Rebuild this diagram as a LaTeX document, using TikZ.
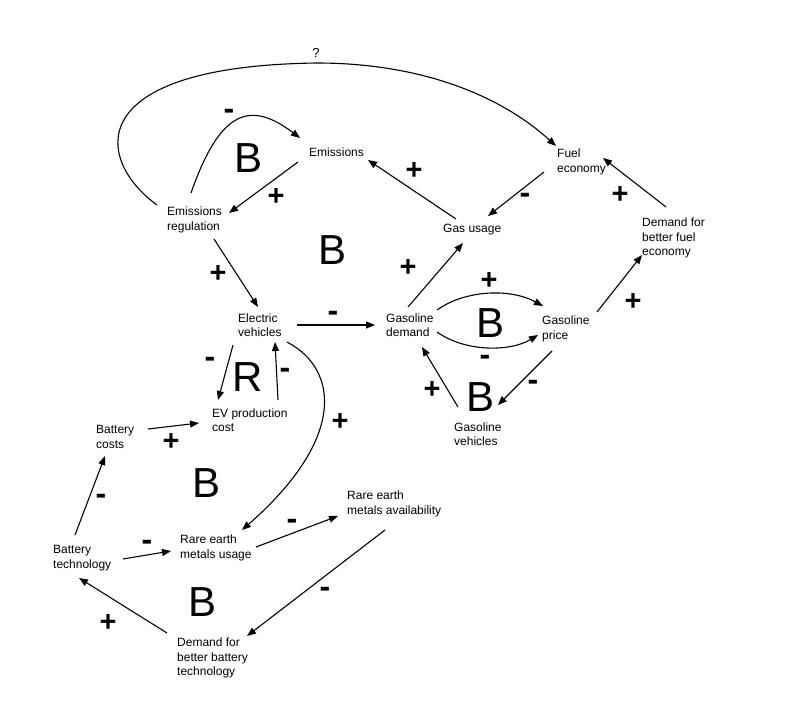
\documentclass[tikz,border=0pt]{standalone}
\usepackage{fontspec}
\setmainfont{Liberation Sans}
\usetikzlibrary{arrows.meta}
\begin{document}
\begin{tikzpicture}[x=1pt,y=-1pt,
  var/.style={anchor=west,align=left,inner sep=0pt,font=\fontsize{12}{14.5}\selectfont},
  lnk/.style={line width=1.1pt,-{Triangle[length=9pt,width=7pt]}},
  plus/.style={inner sep=0pt,font=\bfseries\fontsize{29}{29}\selectfont},
  minus/.style={inner sep=0pt,font=\bfseries\fontsize{32}{32}\selectfont},
  loopl/.style={inner sep=0pt,font=\fontsize{42}{42}\selectfont}]
\useasboundingbox[fill=white] (0,0) rectangle (789,717);
% variables
\node[var] (emis) at (309,152) {Emissions};
\node[var] (reg)  at (167,220) {Emissions\\regulation};
\node[var] (gas)  at (443,230) {Gas usage};
\node[var] (fuel) at (557,162) {Fuel\\economy};
\node[var] (dfe)  at (642,238) {Demand for\\better fuel\\economy};
\node[var] (ev)   at (238,325) {Electric\\vehicles};
\node[var] (gd)   at (386,325) {Gasoline\\demand};
\node[var] (gp)   at (542,329) {Gasoline\\price};
\node[var] (gv)   at (454,434) {Gasoline\\vehicles};
\node[var] (evc)  at (212,420) {EV production\\cost};
\node[var] (bc)   at (96,437)  {Battery\\costs};
\node[var] (rea)  at (347,504) {Rare earth\\metals availability};
\node[var] (reu)  at (180,548) {Rare earth\\metals usage};
\node[var] (bt)   at (53,558)  {Battery\\technology};
\node[var] (dbb)  at (177,658) {Demand for\\better battery\\technology};
% connectors
\draw[lnk] ([shift={(-10,-15)}]reg.west) .. controls (95,160) and (80,66) .. (317,63)
  .. controls (420,63) and (500,95) .. ([shift={(-1,-16)}]fuel.west);
\draw[lnk] ([shift={(24,-27)}]reg.west) .. controls (220,110) and (250,100) .. ([shift={(-9,-14)}]emis.west);
\draw[lnk] ([shift={(-11,10)}]emis.west) -- ([shift={(62,-7)}]reg.west);
\draw[lnk] ([shift={(47,19)}]reg.west) -- ([shift={(20,-18)}]ev.west);
\draw[lnk] ([shift={(59,0)}]ev.west) -- ([shift={(-11,0)}]gd.west);
\draw[lnk] ([shift={(13,-11)}]gas.west) -- ([shift={(59,8)}]emis.west);
\draw[lnk] ([shift={(22,-18)}]gd.west) -- ([shift={(20,13)}]gas.west);
\draw[lnk] ([shift={(-13,10)}]fuel.west) -- ([shift={(45,-14)}]gas.west);
\draw[lnk] ([shift={(24,-31)}]dfe.west) -- ([shift={(46,-4)}]fuel.west);
\draw[lnk] ([shift={(55,-17)}]gp.west) -- ([shift={(0,17)}]dfe.west);
\draw[lnk] ([shift={(51,-15)}]gd.west) .. controls (465,290) and (510,288) .. ([shift={(1,-23)}]gp.west);
\draw[lnk] ([shift={(51,7)}]gd.west) .. controls (465,352) and (510,352) .. ([shift={(-4,6)}]gp.west);
\draw[lnk] ([shift={(10,22)}]gp.west) -- ([shift={(44,-29)}]gv.west);
\draw[lnk] ([shift={(4,-27)}]gv.west) -- ([shift={(36,22)}]gd.west);
\draw[lnk] ([shift={(-5,20)}]ev.west) -- ([shift={(6,-20)}]evc.west);
\draw[lnk] ([shift={(66,-20)}]evc.west) -- ([shift={(37,17)}]ev.west);
\draw[lnk] ([shift={(49,17)}]ev.west) .. controls (340,370) and (345,440) .. ([shift={(62,-18)}]reu.west);
\draw[lnk] ([shift={(52,-8)}]bc.west) -- ([shift={(-13,3)}]evc.west);
\draw[lnk] ([shift={(76,-1)}]reu.west) -- ([shift={(-9,12)}]rea.west);
\draw[lnk] ([shift={(70,1)}]bt.west) -- ([shift={(-9,3)}]reu.west);
\draw[lnk] ([shift={(22,-23)}]bt.west) -- ([shift={(9,19)}]bc.west);
\draw[lnk] ([shift={(38,26)}]rea.west) -- ([shift={(70,-22)}]dbb.west);
\draw[lnk] ([shift={(-10,-25)}]dbb.west) -- ([shift={(26,20)}]bt.west);
% polarity labels
\node[inner sep=0pt,font=\fontsize{13}{13}\selectfont] (q) at (316,53) {?};
\node[minus] (m1) at (229,114) {-};
\node[plus]  (p1) at (276,197) {+};
\node[plus]  (p2) at (414,171) {+};
\node[plus]  (p3) at (218,274) {+};
\node[plus]  (p4) at (408,268) {+};
\node[plus]  (p5) at (489,281) {+};
\node[minus] (m2) at (333,316) {-};
\node[minus] (m3) at (525,198) {-};
\node[plus]  (p6) at (620,195) {+};
\node[plus]  (p7) at (633,302) {+};
\node[minus] (m4) at (485,360) {-};
\node[minus] (m5) at (533,385) {-};
\node[plus]  (p8) at (432,390) {+};
\node[minus] (m6) at (210,362) {-};
\node[minus] (m7) at (285,373) {-};
\node[plus]  (p9) at (340,422) {+};
\node[plus]  (p10) at (171,442) {+};
\node[minus] (m8) at (292,524) {-};
\node[minus] (m9) at (147,545) {-};
\node[minus] (m10) at (101,499) {-};
\node[minus] (m11) at (325,592) {-};
\node[plus]  (p11) at (108,623) {+};
% loop labels
\node[loopl] (b1) at (249,158) {B};
\node[loopl] (b2) at (333,250) {B};
\node[loopl] (b3) at (490,323) {B};
\node[loopl] (b4) at (480,397) {B};
\node[loopl] (r1) at (248,377) {R};
\node[loopl] (b5) at (207,483) {B};
\node[loopl] (b6) at (203,602) {B};
\end{tikzpicture}
\end{document}
